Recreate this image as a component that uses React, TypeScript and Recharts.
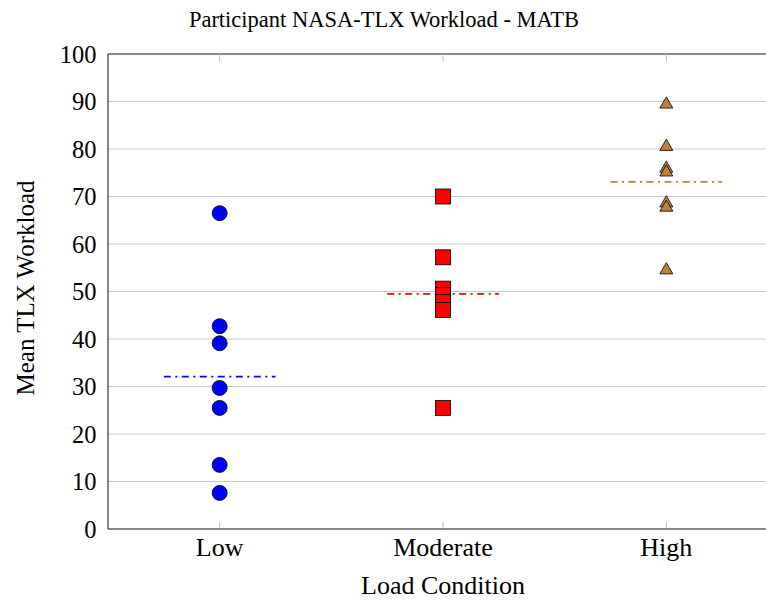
import React from 'react'
import {
  ScatterChart,
  Scatter,
  XAxis,
  YAxis,
  CartesianGrid,
  ReferenceLine,
} from 'recharts'

const categories = ['Low', 'Moderate', 'High']
const lowValues = [66.5, 42.7, 39.1, 29.7, 25.5, 13.5, 7.6]
const moderateValues = [70.0, 57.2, 50.6, 49.3, 47.8, 46.1, 25.5]
const highValues = [89.4, 80.5, 75.9, 75.1, 68.6, 67.7, 54.5]
const yTicks = [0, 10, 20, 30, 40, 50, 60, 70, 80, 90, 100]

const FONT = '"Liberation Serif", "DejaVu Serif", serif'

const toPoints = (values, pos) => values.map((v) => ({ x: pos, y: v }))
const mean = (values) => values.reduce((a, b) => a + b, 0) / values.length

const CircleMark = (props) => (
  <circle cx={props.cx} cy={props.cy} r={7.5} fill="#0000ff" stroke="#000" strokeWidth={0.8} />
)

const SquareMark = (props) => (
  <rect
    x={props.cx - 7.5}
    y={props.cy - 7.5}
    width={15}
    height={15}
    fill="#ff0000"
    stroke="#000"
    strokeWidth={0.8}
  />
)

const TriangleMark = (props) => {
  const r = 7.5
  const { cx, cy } = props
  const pts = `${cx},${cy - r} ${cx - r * 0.866},${cy + r / 2} ${cx + r * 0.866},${cy + r / 2}`
  return <polygon points={pts} fill="#bf8040" stroke="#000" strokeWidth={0.8} />
}

const series = [
  { values: lowValues, color: '#0000ff', shape: CircleMark },
  { values: moderateValues, color: '#ff0000', shape: SquareMark },
  { values: highValues, color: '#bf8040', shape: TriangleMark },
]

const App = () => {
  return (
    <div
      style={{
        position: 'fixed',
        left: 0,
        top: 0,
        width: 766,
        height: 600,
        overflow: 'hidden',
        background: '#fff',
        fontFamily: FONT,
      }}
    >
      <ScatterChart
        width={790}
        height={600}
        margin={{ top: 54, right: 12, bottom: 0, left: 0 }}
        style={{ position: 'absolute', left: 0, top: 0 }}
      >
        <CartesianGrid vertical={false} stroke="#c8c8c8" />
        <XAxis
          type="number"
          dataKey="x"
          domain={[0.5, 3.5]}
          ticks={[1, 2, 3]}
          tickFormatter={(v) => categories[v - 1]}
          height={71}
          axisLine={{ stroke: '#333', strokeWidth: 1.2 }}
          tickLine={false}
          tickSize={0}
          tickMargin={9}
          tick={{ fill: '#000', fontSize: 26, fontFamily: FONT }}
          allowDataOverflow
        />
        <YAxis
          type="number"
          dataKey="y"
          domain={[0, 100]}
          ticks={yTicks}
          width={108}
          axisLine={{ stroke: '#333', strokeWidth: 1.2 }}
          tickLine={false}
          tickSize={0}
          tickMargin={11.5}
          tick={{ fill: '#000', fontSize: 24.5, fontFamily: FONT }}
          allowDataOverflow
        />
        <ReferenceLine y={100} stroke="#333" strokeWidth={1.2} />
        {[1, 2, 3].map((p) => (
          <ReferenceLine
            key={'tb' + p}
            segment={[
              { x: p, y: 0 },
              { x: p, y: 1.5 },
            ]}
            stroke="#bbb"
          />
        ))}
        {[1, 2, 3].map((p) => (
          <ReferenceLine
            key={'tt' + p}
            segment={[
              { x: p, y: 98.5 },
              { x: p, y: 100 },
            ]}
            stroke="#bbb"
          />
        ))}
        {series.map((s, i) => (
          <ReferenceLine
            key={'m' + i}
            segment={[
              { x: i + 1 - 0.25, y: mean(s.values) },
              { x: i + 1 + 0.25, y: mean(s.values) },
            ]}
            stroke={s.color}
            strokeWidth={1.8}
            strokeDasharray="7 4.5 2 4.5"
          />
        ))}
        {series.map((s, i) => (
          <Scatter
            key={'s' + i}
            data={toPoints(s.values, i + 1)}
            shape={s.shape}
            isAnimationActive={false}
          />
        ))}
      </ScatterChart>

      <svg
        width={766}
        height={600}
        style={{ position: 'absolute', left: 0, top: 0, pointerEvents: 'none' }}
      >
        <text x={384} y={27} textAnchor="middle" fontSize={22.5} fontFamily={FONT} fill="#000">
          Participant NASA-TLX Workload - MATB
        </text>
        <text
          x={0}
          y={0}
          transform="translate(34, 288) rotate(-90)"
          textAnchor="middle"
          fontSize={25}
          fontFamily={FONT}
          fill="#000"
        >
          Mean TLX Workload
        </text>
        <text x={443} y={594} textAnchor="middle" fontSize={26} fontFamily={FONT} fill="#000">
          Load Condition
        </text>
      </svg>
    </div>
  )
}

export default App
